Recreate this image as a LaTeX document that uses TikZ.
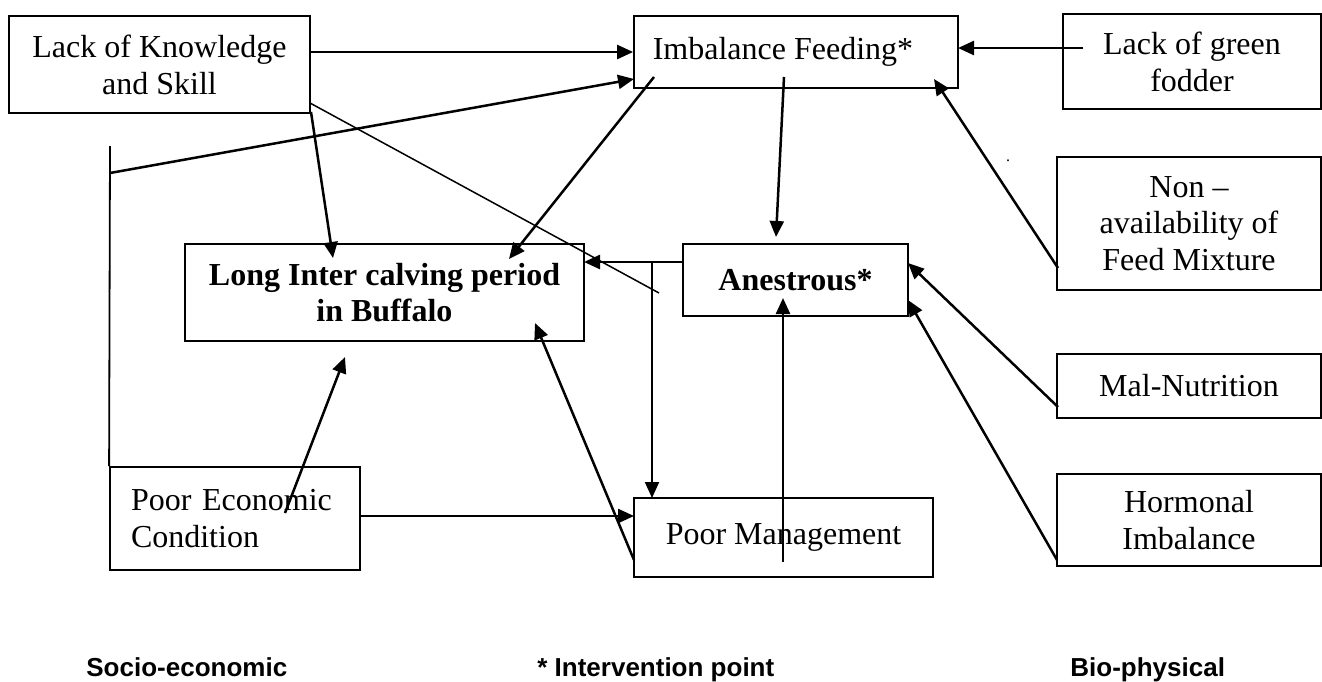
\documentclass[tikz,border=0pt]{standalone}
\usepackage{fontspec}
\setmainfont{Liberation Serif}
\newfontfamily\labelfont{Liberation Sans}
\usetikzlibrary{arrows.meta}
\begin{document}
\begin{tikzpicture}[x=0.5pt,y=-0.5pt,
  box/.style={draw, line width=0.9pt, inner sep=0pt, align=center,
    font=\fontsize{16pt}{18.4pt}\selectfont},
  arr/.style={line width=1.25pt, -{Triangle[length=8pt,width=7pt]}},
  thinline/.style={line width=0.75pt},
  lab/.style={font=\labelfont\bfseries\fontsize{13pt}{15pt}\selectfont, anchor=base west, inner sep=0pt}]
\useasboundingbox (0,0) rectangle (1322,681);

% boxes
\node[box, minimum width=150.5pt, minimum height=48.5pt] (lk) at (159.5,64.5) {Lack of Knowledge\\and Skill};
\node[box, minimum width=162pt, minimum height=36pt] (if) at (796,52) {\hspace*{-13pt}Imbalance Feeding*};
\node[box, minimum width=129pt, minimum height=47.5pt] (lg) at (1192,61.5) {Lack of green\\fodder};
\node[box, minimum width=132pt, minimum height=66.5pt] (na) at (1189,223.5) {Non --\\availability of\\Feed Mixture};
\node[box, minimum width=199.5pt, minimum height=48.5pt, font=\fontsize{16pt}{18.4pt}\selectfont\bfseries] (li) at (384.5,292.5) {Long Inter calving period\\in Buffalo};
\node[box, minimum width=112.5pt, minimum height=36pt, font=\fontsize{16pt}{18.4pt}\selectfont\bfseries] (an) at (795.5,280) {Anestrous*};
\node[box, minimum width=132pt, minimum height=32pt] (mn) at (1189,386) {Mal-Nutrition};
\node[box, minimum width=132pt, minimum height=46pt] (hi) at (1189,520) {Hormonal\\Imbalance};
\node[box, minimum width=125pt, minimum height=51.5pt, text width=104pt, align=left] (pe) at (235,518.5) {Poor Economic\\Condition};
\node[box, minimum width=149.5pt, minimum height=39.5pt] (pm) at (783.5,537.5) {Poor Management};

% stray dot
\node[inner sep=0pt, font=\fontsize{8pt}{9pt}\selectfont] (dot) at (1008,161) {.};

% connector end points
\coordinate (vtop) at (110,146);
\coordinate (vmid) at (110,173);
\coordinate (ifin2) at (634,79);
\coordinate (lkout1) at (311,112);
\coordinate (liin1) at (333,258);
\coordinate (lkout2) at (310,103);
\coordinate (thinend) at (659,293);
\coordinate (ifout1) at (654,77);
\coordinate (liin2) at (509,259);
\coordinate (lgout) at (1083,48);
\coordinate (ifin3) at (958,48);
\coordinate (naout) at (1058,268);
\coordinate (ifin4) at (934,79);
\coordinate (ifout2) at (784,77);
\coordinate (anin1) at (776,237);
\coordinate (anout) at (683,262);
\coordinate (liin3) at (584,262);
\coordinate (vtop2) at (652,261);
\coordinate (pmin1) at (652,498);
\coordinate (mnout) at (1058,407);
\coordinate (anin2) at (908,263);
\coordinate (hiout) at (1057,560);
\coordinate (anin3) at (908,300);
\coordinate (pmout1) at (783,562);
\coordinate (anin4) at (783,298);
\coordinate (peout1) at (360,516);
\coordinate (pmin2) at (634,516);
\coordinate (pmout2) at (634,560);
\coordinate (liin4) at (535,323);
\coordinate (peout2) at (285,513);
\coordinate (liin5) at (345,357);

% connectors
\draw[arr] (if.west -| lk.east) -- (if.west);
\draw[thinline, line width=0.9pt] (vtop) -- (pe.north west);
\draw[arr] (vmid) -- (ifin2);
\draw[arr] (lkout1) -- (liin1);
\draw[thinline] (lkout2) -- (thinend);
\draw[arr] (ifout1) -- (liin2);
\draw[arr] (lgout) -- (ifin3);
\draw[arr] (naout) -- (ifin4);
\draw[arr] (ifout2) -- (anin1);
\draw[arr] (anout) -- (liin3);
\draw[arr, line width=1pt] (vtop2) -- (pmin1);
\draw[arr] (mnout) -- (anin2);
\draw[arr] (hiout) -- (anin3);
\draw[arr] (pmout1) -- (anin4);
\draw[arr] (peout1) -- (pmin2);
\draw[arr] (pmout2) -- (liin4);
\draw[arr] (peout2) -- (liin5);

% bottom labels
\node[lab] (se) at (86,676) {Socio-economic};
\node[lab] (ip) at (537,676) {* Intervention point};
\node[lab] (bp) at (1070,676) {Bio-physical};
\end{tikzpicture}
\end{document}
